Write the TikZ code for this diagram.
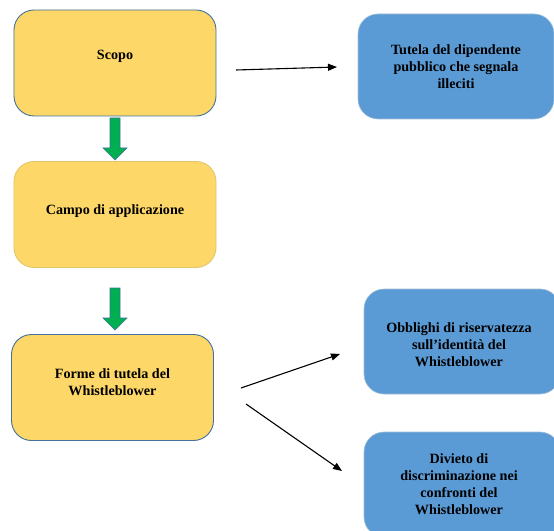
\documentclass[tikz,border=0pt]{standalone}
\usepackage{fontspec}
\setmainfont{Liberation Serif}
\usetikzlibrary{arrows.meta}
\definecolor{ygold}{HTML}{FDD767}
\definecolor{bblue}{HTML}{5B9BD5}
\definecolor{edgeblue}{HTML}{41719C}
\definecolor{agreen}{HTML}{00B050}
\tikzset{
  ybox/.style={draw=edgeblue, line width=0.9bp, fill=ygold, rounded corners=20bp, minimum width=202bp, minimum height=106bp, inner sep=0pt},
  ybox2/.style={ybox, draw=ygold!80!gray},
  bbox/.style={draw=bblue!70!gray!60, line width=0.6bp, fill=bblue, rounded corners=20bp, minimum width=196bp, minimum height=105bp, inner sep=0pt},
  txt/.style={font=\bfseries\fontsize{14.2}{17}\selectfont, align=center, text=black},
  conn/.style={line width=1.1bp, -{Triangle[length=9bp,width=7bp]}},
  garrow/.style={fill=agreen, draw=edgeblue, line width=0.7bp}
}
\begin{document}
\begin{tikzpicture}[x=1bp,y=-1bp]
\useasboundingbox (0,0) rectangle (554,531);
\clip (0,0) rectangle (554,531);
% yellow boxes
\node[ybox] (scopo) at (115,63) {};
\node[txt] (scopoT) at (115,56) {Scopo};
\node[ybox2] (campo) at (115,214.5) {};
\node[txt] (campoT) at (115,211) {Campo di applicazione};
\node[ybox] (forme) at (112.5,387.5) {};
\node[txt] (formeT) at (112.5,382) {Forme di tutela del\\Whistleblower};
% blue boxes
\node[bbox] (tutela) at (456,66.5) {};
\node[txt] (tutelaT) at (456,67) {Tutela del dipendente\\pubblico che segnala\\illeciti};
\node[bbox] (obbl) at (462,341.5) {};
\node[txt] (obblT) at (459,345) {Obblighi di riservatezza\\sull’identità del\\Whistleblower};
\node[bbox] (div) at (462,484.5) {};
\node[txt] (divT) at (459,484.5) {Divieto di\\discriminazione nei\\confronti del\\Whistleblower};
% green arrows
\draw[garrow] (110,118) -- (120,118) -- (120,148) -- (127,148) -- (115,160) -- (103,148) -- (110,148) -- cycle;
\draw[garrow] (110,288) -- (120,288) -- (120,318) -- (127,318) -- (115,330) -- (103,318) -- (110,318) -- cycle;
% connectors
\coordinate (a1) at (236,70);
\coordinate (a2) at (337,67);
\coordinate (b1) at (241,388);
\coordinate (b2) at (340,354);
\coordinate (c1) at (246,404);
\coordinate (c2) at (342,471);
\draw[conn] (a1) -- (a2);
\draw[conn] (b1) -- (b2);
\draw[conn] (c1) -- (c2);
\end{tikzpicture}
\end{document}
